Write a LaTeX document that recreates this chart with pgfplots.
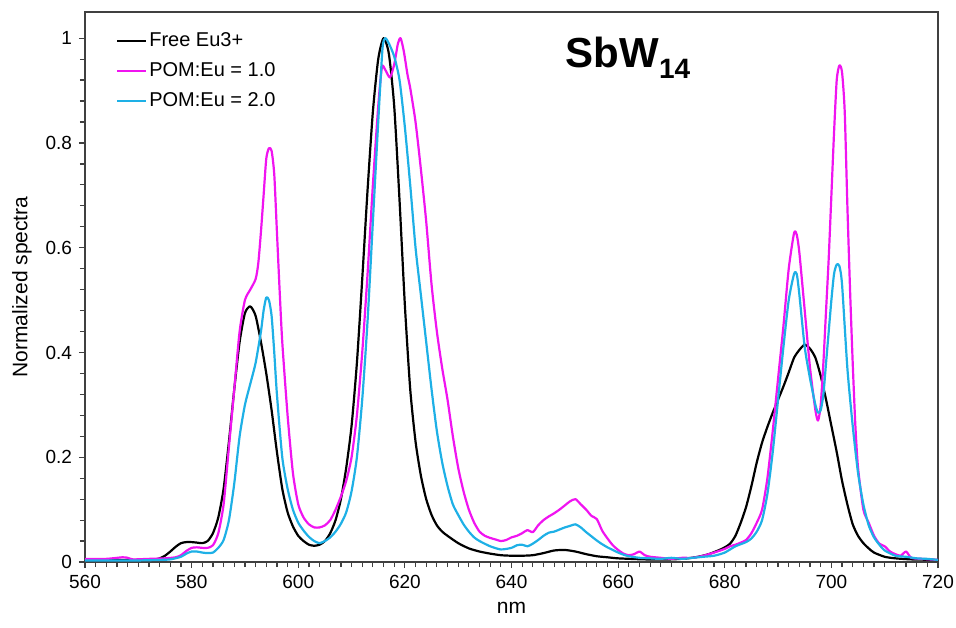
\documentclass[border=0pt]{standalone}
\usepackage{pgfplots}
\pgfplotsset{compat=1.18}
\usepackage{fontspec}
\setmainfont{Liberation Sans}
\definecolor{mag}{RGB}{240,20,240}
\definecolor{cya}{RGB}{30,176,230}
\begin{document}
\begin{tikzpicture}
\begin{axis}[
  scale only axis, width=426.5pt, height=275pt,
  xmin=560, xmax=720, ymin=0, ymax=1.05,
  xtick={560,580,...,720}, ytick={0,0.2,...,1.0},
  minor x tick num=9, minor y tick num=4,
  tick align=outside, xtick pos=bottom, ytick pos=left,
  major tick length=3pt, minor tick length=2.5pt,
  axis line style={black!75, line width=0.7pt},
  every tick/.style={black!75, line width=0.6pt},
  /pgf/number format/assume math mode=true,
  yticklabel style={/pgf/number format/fixed, font=\fontsize{9.5}{11}\selectfont},
  xticklabel style={font=\fontsize{9.5}{11}\selectfont},
  xlabel={nm}, ylabel={Normalized spectra},
  label style={font=\fontsize{10.5}{12}\selectfont},
  legend cell align=left,
  legend style={draw=none, fill=none, at={(rel axis cs:0.036,0.97)}, anchor=north west,
    font=\fontsize{10}{12}\selectfont, row sep=2.5pt, inner sep=0pt,
    nodes={inner xsep=1pt}},
  legend image code/.code={\draw[#1] (0pt,0pt) -- (14.5pt,0pt);},
  every axis plot/.append style={line width=1.1pt, line join=round, smooth, tension=0.4},
]
\coordinate (bl) at (rel axis cs:0,0);
\coordinate (tr) at (rel axis cs:1,1);
\addplot[black] coordinates {
(560,0.004)(565,0.004)(570,0.004)(573,0.005)(574,0.007)(575,0.012)(576,0.02)(577,0.029)
(578,0.036)(579,0.038)(580,0.038)(581,0.037)(582,0.036)(583,0.040)(584,0.055)(585,0.085)
(586,0.14)(587,0.23)(588,0.33)(589,0.42)(590,0.475)(591,0.488)(592,0.47)(593,0.42)
(594,0.36)(595,0.29)(596,0.21)(597,0.14)(598,0.095)(599,0.068)(600,0.05)(601,0.04)
(602,0.033)(603,0.031)(604,0.033)(605,0.04)(606,0.055)(607,0.08)(608,0.12)(609,0.18)
(610,0.26)(611,0.38)(612,0.54)(613,0.71)(614,0.86)(615,0.96)(616,1.0)(617,0.97)
(618,0.87)(619,0.69)(620,0.49)(621,0.33)(622,0.23)(623,0.165)(624,0.12)(625,0.09)
(626,0.07)(627,0.058)(628,0.05)(630,0.036)(632,0.026)(634,0.02)(636,0.016)(638,0.013)
(640,0.012)(642,0.012)(644,0.013)(646,0.017)(648,0.022)(650,0.023)(652,0.02)(654,0.015)
(656,0.011)(658,0.009)(660,0.007)(665,0.005)(670,0.005)(673,0.007)(675,0.01)(677,0.015)
(679,0.023)(680,0.028)(681,0.035)(682,0.05)(683,0.075)(684,0.105)(685,0.145)(686,0.19)
(687,0.228)(688,0.258)(689,0.285)(690,0.31)(691,0.335)(692,0.362)(693,0.39)(694,0.405)
(695,0.415)(696,0.407)(697,0.39)(698,0.355)(699,0.31)(700,0.26)(701,0.21)(702,0.155)
(703,0.11)(704,0.072)(705,0.05)(706,0.036)(707,0.026)(708,0.018)(710,0.01)(712,0.007)
(715,0.005)(720,0.004)
};
\addlegendentry{Free Eu3+}
\addplot[mag] coordinates {
(560,0.006)(564,0.006)(567,0.009)(568,0.008)(569,0.005)(572,0.006)(575,0.007)(577,0.009)
(578,0.013)(579,0.021)(580,0.027)(581,0.028)(582,0.027)(583,0.027)(584,0.032)(585,0.055)
(586,0.11)(587,0.22)(588,0.33)(589,0.44)(590,0.5)(591,0.52)(592,0.54)(592.5,0.57)
(593,0.63)(593.5,0.70)(594,0.77)(594.5,0.79)(595,0.785)(595.5,0.74)(596,0.63)(596.5,0.52)
(597,0.42)(598,0.28)(599,0.17)(600,0.11)(601,0.085)(602,0.072)(603,0.066)(604,0.066)
(605,0.07)(606,0.08)(607,0.1)(608,0.125)(609,0.155)(610,0.2)(611,0.28)(612,0.4)
(613,0.55)(614,0.72)(615,0.87)(615.7,0.945)(616.3,0.94)(617.2,0.925)(618,0.95)(618.7,0.99)
(619.2,1.0)(619.8,0.975)(620.5,0.93)(621,0.905)(622,0.84)(623,0.75)(624,0.65)(625,0.53)
(626,0.44)(627,0.37)(628,0.31)(629,0.24)(630,0.18)(631,0.135)(632,0.1)(633,0.075)
(634,0.058)(635,0.05)(636,0.046)(637,0.043)(638,0.04)(639,0.042)(640,0.047)(641,0.05)
(642,0.055)(643,0.061)(644,0.057)(645,0.07)(646,0.08)(647,0.087)(648,0.093)(649,0.1)
(650,0.108)(651,0.116)(652,0.12)(653,0.11)(654,0.1)(655,0.088)(656,0.082)(657,0.06)
(658,0.045)(659,0.032)(660,0.023)(661,0.016)(662,0.013)(663,0.015)(664,0.02)(665,0.013)
(666,0.01)(668,0.008)(670,0.006)(672,0.008)(674,0.008)(676,0.012)(678,0.018)(680,0.025)
(681,0.03)(682,0.033)(683,0.037)(684,0.042)(685,0.055)(686,0.075)(687,0.1)(688,0.16)
(689,0.25)(690,0.35)(691,0.45)(692,0.56)(693,0.628)(693.5,0.625)(694,0.59)(695,0.48)
(696,0.37)(697,0.29)(697.5,0.27)(698,0.3)(698.5,0.38)(699,0.48)(699.5,0.58)(700,0.7)
(700.5,0.82)(701,0.92)(701.5,0.948)(702,0.935)(702.5,0.86)(703,0.68)(703.5,0.52)(704,0.38)
(704.5,0.26)(705,0.18)(706,0.1)(707,0.075)(708,0.05)(709,0.035)(710,0.03)(711,0.02)
(712,0.015)(713,0.012)(714,0.02)(715,0.008)(717,0.006)(720,0.004)
};
\addlegendentry{POM:Eu = 1.0}
\addplot[cya] coordinates {
(560,0.003)(565,0.003)(570,0.003)(574,0.004)(576,0.005)(578,0.01)(579,0.016)(580,0.02)
(581,0.02)(582,0.018)(583,0.017)(584,0.018)(585,0.027)(586,0.042)(587,0.08)(588,0.15)
(589,0.24)(590,0.3)(591,0.34)(592,0.38)(593,0.44)(593.5,0.48)(594,0.505)(594.5,0.5)
(595,0.47)(595.5,0.4)(596,0.32)(597,0.2)(598,0.14)(599,0.1)(600,0.075)(601,0.06)
(602,0.048)(603,0.04)(604,0.036)(605,0.04)(606,0.047)(607,0.058)(608,0.073)(609,0.095)
(610,0.135)(611,0.2)(612,0.31)(613,0.46)(614,0.65)(615,0.84)(615.8,0.98)(616.3,1.0)
(617,0.99)(618,0.965)(619,0.92)(620,0.83)(621,0.72)(622,0.6)(623,0.51)(624,0.42)
(625,0.33)(626,0.25)(627,0.19)(628,0.145)(629,0.11)(630,0.09)(631,0.072)(632,0.058)
(633,0.047)(634,0.04)(636,0.03)(638,0.024)(640,0.027)(641,0.032)(642,0.033)(643,0.03)
(644,0.035)(645,0.042)(646,0.05)(647,0.056)(648,0.058)(649,0.062)(650,0.066)(651,0.069)
(652,0.072)(653,0.066)(654,0.057)(655,0.049)(656,0.041)(657,0.034)(658,0.028)(659,0.023)
(660,0.018)(661,0.014)(662,0.011)(664,0.008)(666,0.007)(668,0.006)(670,0.008)(672,0.006)
(674,0.008)(676,0.01)(678,0.012)(680,0.018)(682,0.03)(684,0.038)(685,0.045)(686,0.058)
(687,0.08)(688,0.13)(689,0.21)(690,0.31)(691,0.41)(692,0.5)(693,0.55)(693.5,0.55)
(694,0.51)(695,0.41)(696,0.35)(697,0.3)(697.5,0.285)(698,0.29)(698.5,0.32)(699,0.38)
(699.5,0.44)(700,0.5)(700.5,0.55)(701,0.568)(701.5,0.565)(702,0.53)(703,0.37)(704,0.26)
(705,0.17)(706,0.11)(707,0.07)(708,0.047)(709,0.033)(710,0.022)(712,0.012)(714,0.01)
(716,0.007)(718,0.006)(720,0.004)
};
\addlegendentry{POM:Eu = 2.0}
\node[anchor=base west, inner sep=0pt, font=\fontsize{21}{24}\selectfont\bfseries]
  at (axis cs:650.1,0.945) {SbW\raisebox{-5.5pt}{\fontsize{14}{16}\selectfont 14}};
\end{axis}
\pgfresetboundingbox
\path[use as bounding box] ([shift={(-42.5pt,-32.5pt)}]bl) rectangle ([shift={(9pt,6pt)}]tr);
\end{tikzpicture}
\end{document}
